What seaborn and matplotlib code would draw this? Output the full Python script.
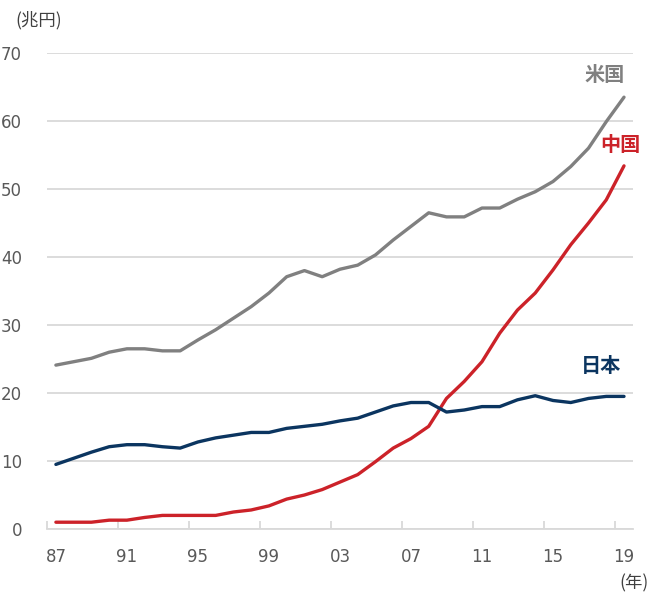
import numpy as np
import pandas as pd
import seaborn as sns
from matplotlib import pyplot as plt
from matplotlib.ticker import MultipleLocator

# values (兆円)
years = list(range(1987, 2020))
usa = [24.1, 24.6, 25.1, 26.0, 26.5, 26.5, 26.2, 26.2, 27.8, 29.3, 31.0, 32.7, 34.7,
       37.1, 38.0, 37.1, 38.2, 38.8, 40.3, 42.5, 44.5, 46.5, 45.9, 45.9, 47.2, 47.2,
       48.5, 49.6, 51.1, 53.3, 56.0, 59.9, 63.5]
china = [1.0, 1.0, 1.0, 1.3, 1.3, 1.7, 2.0, 2.0, 2.0, 2.0, 2.5, 2.8, 3.4,
         4.4, 5.0, 5.8, 6.9, 8.0, 9.9, 11.9, 13.3, 15.1, 19.2, 21.7, 24.6, 28.8,
         32.2, 34.7, 38.1, 41.8, 45.0, 48.4, 53.4]
japan = [9.5, 10.4, 11.3, 12.1, 12.4, 12.4, 12.1, 11.9, 12.8, 13.4, 13.8, 14.2, 14.2,
         14.8, 15.1, 15.4, 15.9, 16.3, 17.2, 18.1, 18.6, 18.6, 17.2, 17.5, 18.0, 18.0,
         19.0, 19.6, 18.9, 18.6, 19.2, 19.5, 19.5]
countries = ["米国", "中国", "日本"]
colors = ["#808080", "#cc2229", "#0b3560"]
tick_years = list(range(1987, 2020, 4))
tick_labels = [f"{y % 100:02d}" for y in tick_years]

df = pd.DataFrame({
    "year": years * 3,
    "value": usa + china + japan,
    "country": [c for c in countries for _ in years],
})

sns.set_theme(style="white")
plt.rcParams['font.family'] = ['Noto Sans CJK JP', 'DejaVu Sans']

fig = plt.figure(figsize=(6.65, 5.92), dpi=100)
ax = fig.add_axes([0.0707, 0.1064, 0.881, 0.8041])

sns.lineplot(data=df, x="year", y="value", hue="country", hue_order=countries,
             palette=colors, linewidth=2.4, legend=False, ax=ax)

ax.set_xlim(1986.5, 2019.5)
ax.set_ylim(0, 70)
ax.yaxis.set_major_locator(MultipleLocator(10))
ax.grid(axis="y", color="#d9d9d9", linewidth=1.3)
ax.set_axisbelow(True)
for side in ["top", "right", "left"]:
    ax.spines[side].set_visible(False)
ax.spines["bottom"].set_color("#d9d9d9")
ax.spines["bottom"].set_linewidth(1.3)

ax.set_xticks(tick_years)
ax.set_xticklabels(tick_labels, family="DejaVu Sans")
ax.set_xticks(np.arange(1986.5, 2019, 4), minor=True)
ax.tick_params(axis="x", which="major", length=0, pad=14, labelsize=12, labelcolor="#595959")
ax.tick_params(axis="x", which="minor", direction="in", length=6, width=1.3, color="#d9d9d9", bottom=True)
ax.tick_params(axis="y", length=0, pad=18, labelsize=12, labelcolor="#595959")
for lab in ax.get_yticklabels():
    lab.set_family("DejaVu Sans")
ax.set_xlabel("")
ax.set_ylabel("")

label_pos = {"米国": (2017.9, 66.8), "中国": (2018.8, 56.5), "日本": (2017.7, 24.1)}
for c, col in zip(countries, colors):
    x, y = label_pos[c]
    ax.text(x, y, c, color=col, fontsize=14.5, fontweight="bold", ha="center", va="center")

fig.text(0.058, 0.965, "(兆円)", fontsize=12.5, color="#404040", ha="center", va="center")
fig.text(0.953, 0.015, "(年)", fontsize=12.5, color="#404040", ha="center", va="center")

fig.savefig("out.png", dpi=100)
